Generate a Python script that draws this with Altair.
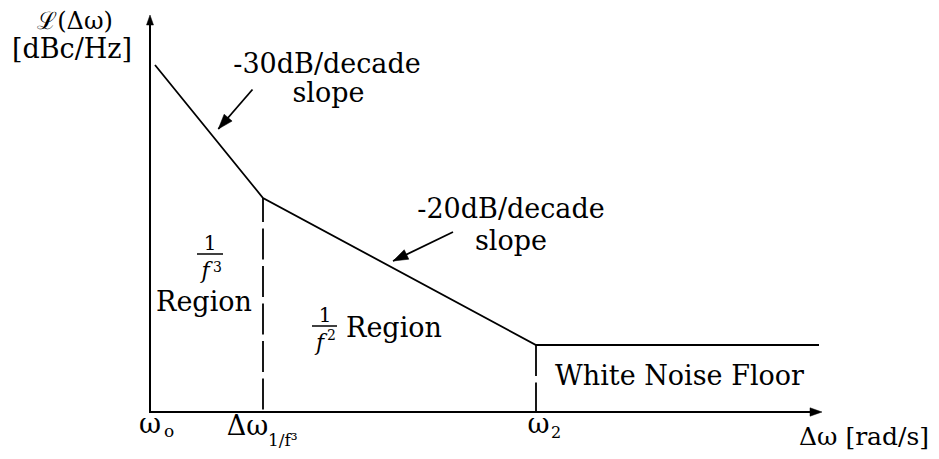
import altair as alt
import pandas as pd
import math

# Coordinates of the schematic (origin at the axes corner, x to the right, y upward)
curve_x = [5, 113, 386, 669]
curve_y = [347, 214, 67, 67]

corner_x = [113, 386]          # Δω_{1/f³}, ω₂
corner_y = [214, 67]
dash_offset = [7, 0]

axis_x_end = [662]
axis_y_end = [390]
axis_tip_x = [672]
axis_tip_y = [397]

arrow_tail_x = [102.5, 303]
arrow_tail_y = [322.5, 180]
arrow_tip_x = [68.3, 243]
arrow_tip_y = [283, 151]
head_len = 15

frac_bar_x = [47, 162]
frac_bar_x2 = [73, 187]
frac_bar_y = [158, 86]

# texts
center_text = ["-30dB/decade", "slope", "-20dB/decade", "slope", "White Noise Floor",
               "Region", "Region", "[dBc/Hz]", "ℒ(Δω)", "1", "1",
               "Δω [rad/s]", "ω", "Δω", "ω"]
center_x = [177, 178.5, 361, 361, 529.5, 54, 244, -78, -75, 60, 175, 714, 0, 97.5, 388.5]
center_y = [339, 310, 194, 162, 27, 101, 75, 354, 383, 162, 90, -33, -21, -23, -21]
center_size = [27, 27, 27, 27, 27, 27, 27, 27, 24, 20, 20, 25, 27, 27, 27]

left_text = ["o", "1/f³", "2", "3", "2"]
left_x = [14, 118, 401, 63, 177]
left_y = [-25, -34, -26, 140, 72]
left_size = [17, 17, 16, 14, 14]

ital_text = ["f", "f"]
ital_x = [55.5, 170]
ital_y = [134, 62]
ital_size = [22, 22]

XS = alt.Scale(domain=[-142, 781], nice=False, zero=False)
YS = alt.Scale(domain=[-39, 404], nice=False, zero=False)
FONT = "DejaVu Serif"


def X(f):
    return alt.X(f"{f}:Q", scale=XS, axis=None)


def Y(f):
    return alt.Y(f"{f}:Q", scale=YS, axis=None)


curve_df = pd.DataFrame({"x": curve_x, "y": curve_y, "o": range(len(curve_x))})
curve = alt.Chart(curve_df).mark_line(color="black", strokeWidth=1.8).encode(
    x=X("x"), y=Y("y"), order="o:Q")

dash_layers = []
for cx, cy, off in zip(corner_x, corner_y, dash_offset):
    d = pd.DataFrame({"x": [cx], "y": [cy], "y2": [0]})
    dash_layers.append(
        alt.Chart(d).mark_rule(color="black", strokeWidth=1.8, strokeDash=[31, 6.5],
                               strokeDashOffset=off).encode(
            x=X("x"), y=Y("y"), y2="y2:Q"))

axes_df = pd.DataFrame({"x": [0, 0], "y": [-1, 0], "x2": [0, axis_x_end[0]], "y2": [axis_y_end[0], 0]})
axes = alt.Chart(axes_df).mark_rule(color="black", strokeWidth=2).encode(
    x=X("x"), y=Y("y"), x2="x2:Q", y2="y2:Q")

# arrow heads: filled triangles (path in unit box, pointing up, centred), rotated by angle
head_shape = "M0,-1L0.7,1L-0.7,1Z"
heads = []
heads.append({"x": 0, "y": axis_tip_y[0] - 5, "a": 0, "s": 100})
heads.append({"x": axis_tip_x[0] - 6, "y": 0, "a": 90, "s": 144})
for tx, ty, hx, hy in zip(arrow_tail_x, arrow_tail_y, arrow_tip_x, arrow_tip_y):
    dx, dy = hx - tx, hy - ty
    n = math.hypot(dx, dy)
    ux, uy = dx / n, dy / n
    ang = math.degrees(math.atan2(ux, uy)) % 360
    heads.append({"x": hx - ux * head_len / 2, "y": hy - uy * head_len / 2, "a": ang,
                  "s": head_len ** 2})
heads_df = pd.DataFrame(heads)
head_marks = alt.Chart(heads_df).mark_point(
    shape=head_shape, filled=True, fill="black", stroke="black", strokeWidth=0.5, opacity=1).encode(
    x=X("x"), y=Y("y"), angle=alt.Angle("a:Q", scale=None), size=alt.Size("s:Q", scale=None))

arr_df = pd.DataFrame({"x": arrow_tail_x, "y": arrow_tail_y, "x2": arrow_tip_x, "y2": arrow_tip_y})
arr_lines = alt.Chart(arr_df).mark_rule(color="black", strokeWidth=1.8).encode(
    x=X("x"), y=Y("y"), x2="x2:Q", y2="y2:Q")

bars_df = pd.DataFrame({"x": frac_bar_x, "x2": frac_bar_x2, "y": frac_bar_y})
bars = alt.Chart(bars_df).mark_rule(color="black", strokeWidth=1.5).encode(
    x=X("x"), x2="x2:Q", y=Y("y"))

ct = alt.Chart(pd.DataFrame({"x": center_x, "y": center_y, "t": center_text, "s": center_size})).mark_text(
    font=FONT, align="center", baseline="alphabetic", color="black").encode(
    x=X("x"), y=Y("y"), text="t:N", size=alt.Size("s:Q", scale=None))
lt = alt.Chart(pd.DataFrame({"x": left_x, "y": left_y, "t": left_text, "s": left_size})).mark_text(
    font=FONT, align="left", baseline="alphabetic", color="black").encode(
    x=X("x"), y=Y("y"), text="t:N", size=alt.Size("s:Q", scale=None))
it = alt.Chart(pd.DataFrame({"x": ital_x, "y": ital_y, "t": ital_text, "s": ital_size})).mark_text(
    font=FONT, fontStyle="italic", align="center", baseline="alphabetic", color="black").encode(
    x=X("x"), y=Y("y"), text="t:N", size=alt.Size("s:Q", scale=None))

chart = alt.layer(curve, *dash_layers, axes, arr_lines, head_marks, bars, ct, lt, it).properties(
    width=923, height=443, autosize=alt.AutoSizeParams(type="none"), padding=0,
    background="white"
).configure_view(stroke=None)

chart.save("out.html", embed_options={"renderer": "svg", "actions": False})
